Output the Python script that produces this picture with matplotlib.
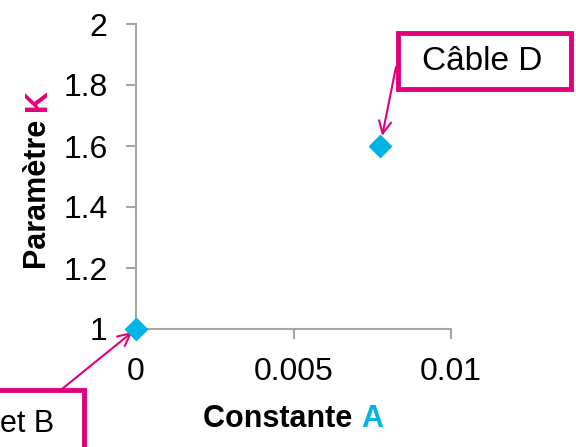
import matplotlib
matplotlib.use("Agg")
import matplotlib.pyplot as plt
from matplotlib.patches import Rectangle
from matplotlib.transforms import IdentityTransform

# Data
labels = ["et B", "Câble D"]
const_a = [0.0, 0.00775]
param_k = [1.0, 1.6]
x_ticks = [0, 0.005, 0.01]
x_tick_labels = ["0", "0.005", "0.01"]
y_ticks = [1, 1.2, 1.4, 1.6, 1.8, 2]
y_tick_labels = ["1", "1.2", "1.4", "1.6", "1.8", "2"]

PINK = "#E2007A"
CYAN = "#00B5E2"
GREY = "#A6A6A6"

plt.rcParams["font.family"] = ["Liberation Sans", "DejaVu Sans"]

W, H = 576, 447
fig = plt.figure(figsize=(W / 100, H / 100), dpi=100)
ax = fig.add_axes([136 / W, 1 - 329 / H, (451 - 136) / W, (329 - 24) / H])

ax.plot(const_a, param_k, linestyle="none", marker="D", markersize=11.5,
        color=CYAN, clip_on=False, zorder=5)

ax.set_xlim(0, 0.01)
ax.set_ylim(1, 2)
ax.set_xticks(x_ticks)
ax.set_xticklabels(x_tick_labels)
ax.set_yticks(y_ticks)
ax.set_yticklabels(y_tick_labels)
for s in ("top", "right"):
    ax.spines[s].set_visible(False)
for s in ("left", "bottom"):
    ax.spines[s].set_color(GREY)
    ax.spines[s].set_linewidth(1.5)
ax.tick_params(axis="both", colors=GREY, length=7.5, width=1.5, labelsize=23,
               labelcolor="black")
ax.tick_params(axis="x", pad=13)
ax.tick_params(axis="y", pad=13)

ident = IdentityTransform()

def px(x, y):
    """Top-left based pixel position -> display coordinates."""
    return (x, H - y)

# Callout boxes
fig.patches.append(Rectangle(px(398, 89), 571 - 398, 89 - 33, transform=ident,
                             fc="white", ec=PINK, lw=3.5, zorder=3))
fig.patches.append(Rectangle(px(-30, 470), 84 + 30, 470 - 390, transform=ident,
                             fc="white", ec=PINK, lw=3.5, zorder=3))
fig.text(*px(482, 62), labels[1], transform=ident, ha="center", va="center",
         fontsize=24, zorder=4)
fig.text(*px(54, 424), labels[0], transform=ident, ha="right", va="center",
         fontsize=22, zorder=4)

# Leader arrows to the points
arrow = dict(arrowstyle="->", color=PINK, lw=1.5, mutation_scale=22, shrinkA=0)
ax.annotate("", xy=(const_a[1], param_k[1]), xycoords="data",
            xytext=px(396, 67), textcoords="figure pixels",
            arrowprops=dict(arrow, shrinkB=7.5), annotation_clip=False)
ax.annotate("", xy=(const_a[0], param_k[0]), xycoords="data",
            xytext=px(62, 389), textcoords="figure pixels",
            arrowprops=dict(arrow, shrinkB=3.5), annotation_clip=False)

# Axis titles with a coloured letter
fig.canvas.draw()
renderer = fig.canvas.get_renderer()

def two_part_label(x, y, first, second, color2, rotation=0):
    t1 = fig.text(0, 0, first, fontsize=22, fontweight="bold", color="black",
                  rotation=rotation, transform=ident)
    t2 = fig.text(0, 0, second, fontsize=22, fontweight="bold", color=color2,
                  rotation=rotation, transform=ident)
    b1 = t1.get_window_extent(renderer)
    b2 = t2.get_window_extent(renderer)
    if rotation == 0:
        x0 = x - (b1.width + b2.width) / 2
        t1.set_position((x0, y)); t1.set_ha("left"); t1.set_va("center")
        t2.set_position((x0 + b1.width, y)); t2.set_ha("left"); t2.set_va("center")
    else:
        y0 = y - (b1.height + b2.height) / 2
        t1.set_position((x, y0)); t1.set_ha("center"); t1.set_va("bottom")
        t2.set_position((x, y0 + b1.height)); t2.set_ha("center"); t2.set_va("bottom")

two_part_label(*px(293, 419), "Constante ", "A", CYAN)
two_part_label(*px(38, 179), "Paramètre ", "K", PINK, rotation=90)

fig.savefig("out.png", dpi=100)
